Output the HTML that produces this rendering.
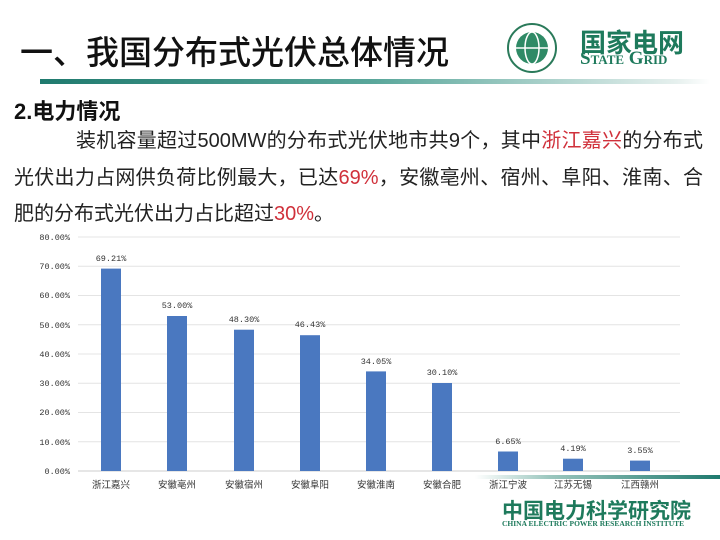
<!DOCTYPE html>
<html><head><meta charset="utf-8"><style>
body{margin:0;width:720px;height:540px;background:#fff;position:relative;overflow:hidden;font-family:"Liberation Sans","Noto Sans CJK SC",sans-serif}
.a{position:absolute;white-space:nowrap}
.j{position:absolute;text-align:justify;text-align-last:justify;font-size:20px;color:#222;white-space:nowrap}
.r{color:#d0313b}
</style></head><body>
<div class="a" style="left:20px;top:26px;font-size:33px;color:#111;font-weight:500">一、我国分布式光伏总体情况</div>
<div class="a" style="left:40px;top:79px;width:670px;height:5px;background:linear-gradient(90deg,#1f7a6e,#5aa79b 50%,#e6f0ee 95%,#fff)"></div>
<svg class="a" style="left:506px;top:22px" width="52" height="52"><circle cx="26" cy="26" r="24" fill="#fff" stroke="#2a7a5a" stroke-width="2"/><circle cx="26" cy="26" r="16" fill="#2f8a66"/><ellipse cx="26" cy="26" rx="7" ry="16" fill="none" stroke="#fff" stroke-width="1.5"/><line x1="10" y1="26" x2="42" y2="26" stroke="#fff" stroke-width="1.5"/></svg>
<div class="a" style="left:580px;top:23px;font-size:26px;font-weight:bold;color:#1e7a5c;letter-spacing:0px">国家电网</div>
<div class="a" style="left:580px;top:48px;font-size:19px;font-weight:bold;color:#1e7a5c;font-family:'Liberation Serif',serif;font-variant:small-caps">State Grid</div>
<div class="j" style="left:14px;top:94px;font-size:22px;font-weight:bold;color:#111;text-align-last:auto">2.电力情况</div>
<div class="j" style="left:76px;top:124px;width:627px">装机容量超过500MW的分布式光伏地市共9个，其中<span class="r">浙江嘉兴</span>的分布式</div>
<div class="j" style="left:14px;top:161px;width:689px">光伏出力占网供负荷比例最大，已达<span class="r">69%</span>，安徽亳州、宿州、阜阳、淮南、合</div>
<div class="a" style="left:14px;top:197px;font-size:20px;color:#222">肥的分布式光伏出力占比超过<span class="r">30%</span>。</div>
<svg class="a" style="left:0;top:225px" width="720" height="270" font-family="Liberation Mono,Noto Sans CJK SC,monospace" font-size="8.5" fill="#333">
<g stroke="#e4e4e4" stroke-width="1">
<line x1="78" y1="12" x2="680" y2="12"/><line x1="78" y1="41.25" x2="680" y2="41.25"/><line x1="78" y1="70.5" x2="680" y2="70.5"/><line x1="78" y1="99.75" x2="680" y2="99.75"/><line x1="78" y1="129" x2="680" y2="129"/><line x1="78" y1="158.25" x2="680" y2="158.25"/><line x1="78" y1="187.5" x2="680" y2="187.5"/><line x1="78" y1="216.75" x2="680" y2="216.75"/></g>
<line x1="78" y1="246" x2="680" y2="246" stroke="#ccc"/>
<g text-anchor="end"><text x="70" y="15">80.00%</text><text x="70" y="44">70.00%</text><text x="70" y="73">60.00%</text><text x="70" y="103">50.00%</text><text x="70" y="132">40.00%</text><text x="70" y="161">30.00%</text><text x="70" y="190">20.00%</text><text x="70" y="220">10.00%</text><text x="70" y="249">0.00%</text></g>
<g fill="#4a78c0">
<rect x="101" y="43.6" width="20" height="202.4"/><rect x="167" y="91" width="20" height="155"/><rect x="234" y="104.7" width="20" height="141.3"/><rect x="300" y="110.2" width="20" height="135.8"/><rect x="366" y="146.4" width="20" height="99.6"/><rect x="432" y="158" width="20" height="88"/><rect x="498" y="226.5" width="20" height="19.5"/><rect x="563" y="233.7" width="20" height="12.3"/><rect x="630" y="235.6" width="20" height="10.4"/></g>
<g text-anchor="middle"><text x="111" y="36">69.21%</text><text x="177" y="83">53.00%</text><text x="244" y="97">48.30%</text><text x="310" y="102">46.43%</text><text x="376" y="139">34.05%</text><text x="442" y="150">30.10%</text><text x="508" y="219">6.65%</text><text x="573" y="226">4.19%</text><text x="640" y="228">3.55%</text>
<g font-size="9.5"><text x="111" y="263">浙江嘉兴</text><text x="177" y="263">安徽亳州</text><text x="244" y="263">安徽宿州</text><text x="310" y="263">安徽阜阳</text><text x="376" y="263">安徽淮南</text><text x="442" y="263">安徽合肥</text><text x="508" y="263">浙江宁波</text><text x="573" y="263">江苏无锡</text><text x="640" y="263">江西赣州</text></g></g>
</svg>
<div class="a" style="left:475px;top:475px;width:245px;height:4px;background:linear-gradient(90deg,#fff,#9cc7bf 30%,#1f7a6e)"></div>
<div class="a" style="left:502px;top:495px;font-size:21px;font-weight:bold;color:#1e7a5c">中国电力科学研究院</div>
<div class="a" style="left:502px;top:519px;font-size:7.5px;font-weight:bold;color:#1e7a5c;font-family:'Liberation Serif',serif">CHINA ELECTRIC POWER RESEARCH INSTITUTE</div>
</body></html>
